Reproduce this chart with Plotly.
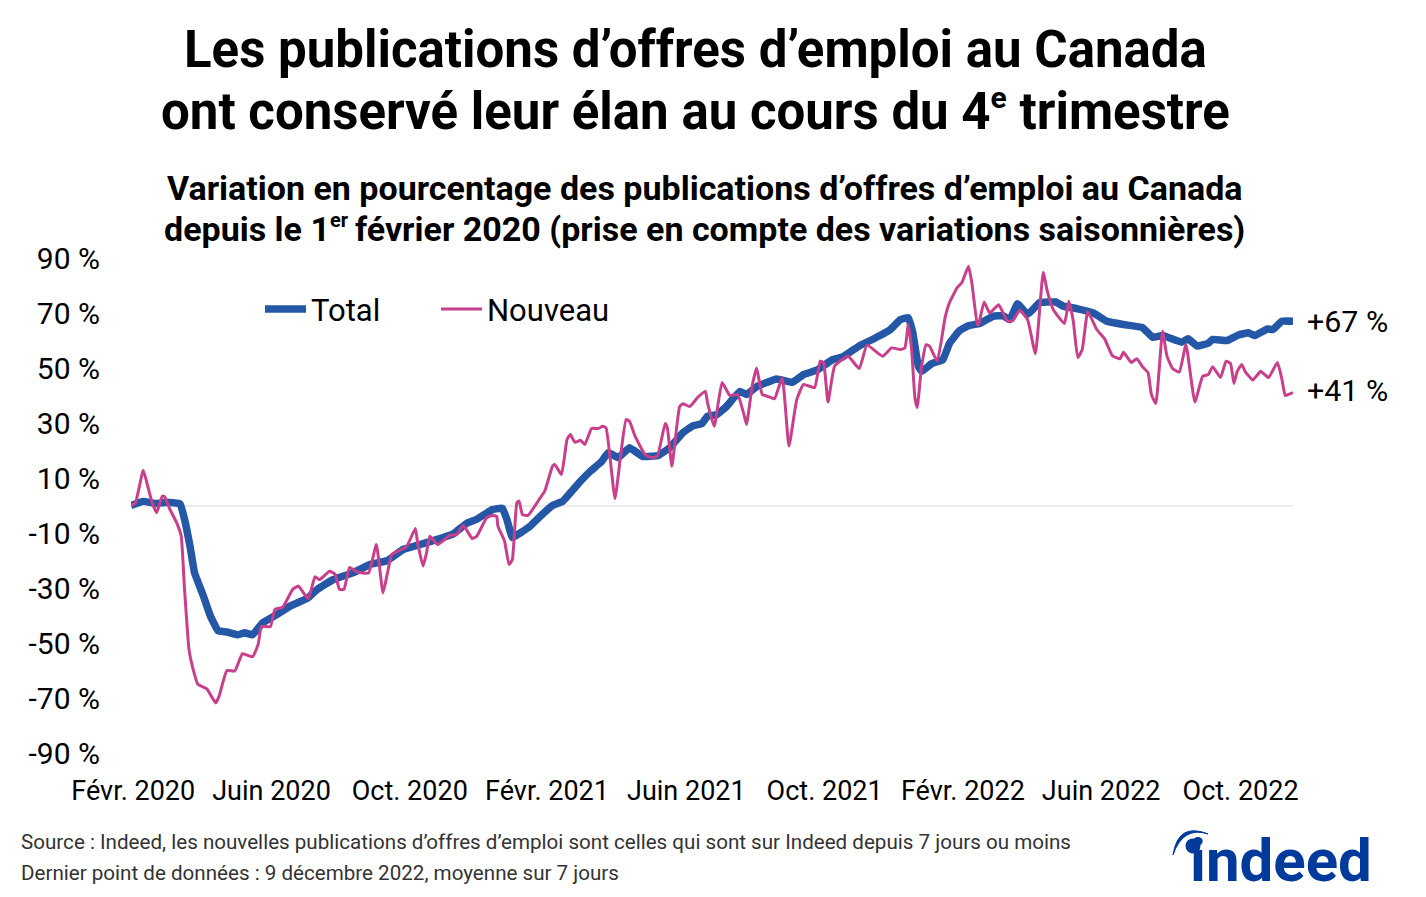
import plotly.graph_objects as go

# days since 1 Feb 2020 / % change
TOTAL_DAYS = [0, 11, 23, 32, 44, 48, 53, 57, 65, 71, 78, 86, 96, 102, 109, 118, 131, 143, 158, 167, 181, 199, 214,
              230, 244, 259, 274, 289, 301, 310, 324, 333, 337, 342, 349, 358, 367, 378, 387, 403, 412, 422, 428,
              437, 447, 459, 473, 483, 495, 504, 512, 517, 525, 534, 546, 552, 561, 579, 593, 603, 615, 629, 638,
              654, 663, 681, 690, 697, 701, 706, 709, 718, 728, 734, 743, 751, 761, 773, 782, 788, 795, 804, 815,
              829, 836, 848, 863, 875, 890, 907, 916, 925, 942, 948, 956, 966, 970, 983, 993, 1002, 1008, 1019,
              1024, 1032, 1042]
TOTAL = [0, 1.5, 0.7, 1.2, 0.6, -5, -15, -24.5, -33, -40, -45.5, -46, -47, -46.3, -47, -42.7, -39.6, -36.5, -33.8,
         -30.5, -27, -24.5, -21.5, -20, -16, -14.2, -12.4, -10.3, -6.5, -5, -1.5, -1, -5, -11.7, -10, -7.5, -3.9, 0,
         1.5, 8.8, 12.5, 16, 19.2, 17.4, 21, 17.8, 18.2, 21, 26.5, 29, 29.8, 32.5, 33, 36, 41.5, 40.4, 43.2, 46,
         44.8, 47.6, 49.2, 53, 54, 58.3, 60, 64, 67.6, 68.3, 63, 50.7, 48.8, 51.6, 53, 59, 63.6, 65.4, 66.2, 68.8,
         69, 67.6, 73.4, 69.5, 73.8, 74, 72.5, 71.6, 70, 67, 65.8, 64.7, 61.2, 61.8, 59.4, 60.6, 58, 59, 60.4, 60,
         62, 62.8, 61.8, 64.2, 64, 67, 67]

NEW_DAYS = [0, 4, 11, 15, 19, 23, 28, 30, 35, 41, 45, 48, 52, 55, 60, 68, 73, 76, 79, 86, 93, 100, 109, 114, 117,
            125, 129, 136, 145, 150, 159, 165, 169, 178, 183, 187, 191, 196, 203, 213, 220, 226, 230, 234, 247,
            255, 257, 262, 265, 268, 275, 286, 292, 298, 306, 310, 319, 324, 328, 329, 335, 339, 342, 346, 348,
            351, 356, 367, 371, 378, 380, 386, 391, 394, 398, 403, 407, 413, 419, 423, 426, 434, 439, 444, 447,
            452, 461, 467, 472, 479, 481, 485, 492, 495, 501, 508, 515, 517, 523, 530, 537, 544, 550, 552, 557,
            561, 566, 571, 577, 584, 590, 597, 603, 613, 618, 621, 625, 631, 643, 653, 660, 674, 682, 690, 694,
            697, 700, 703, 705, 709, 713, 716, 723, 730, 734, 741, 745, 751, 754, 759, 760, 765, 770, 778, 786,
            791, 797, 804, 811, 818, 822, 827, 837, 841, 845, 849, 853, 858, 866, 873, 880, 887, 890, 897, 902,
            907, 912, 915, 919, 925, 929, 934, 940, 946, 954, 961, 966, 970, 977, 982, 986, 989, 992, 996, 999,
            1006, 1013, 1020, 1028, 1032, 1035, 1038, 1042]
NEW = [0, 1, 12.8, 7, 1, -2.6, 3.4, 3.3, -1.5, -6.3, -11, -30.5, -52.4, -58.4, -65, -66.7, -70, -71.8, -69.3, -60,
       -60.2, -53.9, -55, -50.5, -44, -44, -37.8, -37, -30.5, -29.3, -33.9, -25.9, -27, -23.9, -25, -30.5, -30.5,
       -22.5, -24.2, -24.5, -14.2, -31.8, -24.5, -17.8, -15, -8.4, -13.6, -22, -17.2, -11.2, -14.2, -10.9, -10.6,
       -7.3, -12, -11.2, -4.4, -3.6, -4, -7.5, -13, -21.5, -19.6, 1, 1.6, -3.3, -3.6, 2.8, 5.2, 14.3, 14.9, 11.3,
       24, 25.8, 23, 23.7, 22.2, 28, 28, 28.8, 28.2, 2.5, 18, 31.3, 30.6, 25.2, 18.5, 17.4, 18, 29.8, 28.2, 14.3,
       36, 37, 36, 39.2, 41.6, 37.3, 28.8, 44.7, 40, 40.4, 32.5, 29.5, 43.4, 50, 40.4, 39.7, 38.8, 46.5, 21.6, 38.5,
       44, 42.9, 52.5, 52, 37.6, 50.7, 54.3, 49.8, 58.3, 54.3, 57.3, 56.7, 57.3, 65.8, 56.7, 39, 35.6, 50.7, 58.5,
       58, 52.5, 68.3, 73.8, 79.3, 81, 87, 81, 65.8, 65.8, 74, 70, 73, 67, 67.3, 71, 67.6, 55.2, 84.7, 77.4, 71.3,
       66.2, 74.3, 67, 53.8, 56.7, 70.5, 64, 60.7, 54.5, 53.4, 55.7, 52, 53.4, 50.5, 48.3, 40.4, 37.1, 63.4, 54.3,
       49.8, 48.5, 58.5, 37.6, 47, 47.6, 50.5, 46.5, 52.5, 51.6, 44.4, 48.8, 51.3, 48.8, 45.6, 48.8, 46.5, 52, 46,
       40, 40.4, 41]

X_TICKS = [2, 126, 250, 373, 498, 622, 746, 870, 995]
X_LABELS = ["Févr. 2020", "Juin 2020", "Oct. 2020", "Févr. 2021", "Juin 2021", "Oct. 2021", "Févr. 2022",
            "Juin 2022", "Oct. 2022"]
Y_TICKS = [90, 70, 50, 30, 10, -10, -30, -50, -70, -90]
Y_LABELS = [f"{v}\u00a0%" for v in Y_TICKS]

W, H = 1426, 897
LEFT, RIGHT, TOP, BOTTOM = 131, 1293, 257.5, 753
FONT = "Roboto"
BLUE = "#2557A7"
PINK = "#C83F8B"
LOGO = "#003A9B"


def px(x):
    return (x - LEFT) / (RIGHT - LEFT)


def py(y):
    return (BOTTOM - y) / (BOTTOM - TOP)


def text_at(x, y, text, size, bold=False, color="black", anchor="center"):
    fig.add_annotation(xref="paper", yref="paper", x=px(x), y=py(y), text=text, showarrow=False,
                       xanchor=anchor, yanchor="middle",
                       font=dict(family=FONT, size=size, color=color, weight="bold" if bold else "normal"))


def small_sup(text, size):
    return f"<sup><span style='font-size:{size}px'>{text}</span></sup>"


fig = go.Figure()
fig.add_trace(go.Scatter(x=TOTAL_DAYS, y=TOTAL, mode="lines", name="Total",
                         line=dict(color=BLUE, width=7.5, shape="spline", smoothing=0.3)))
fig.add_trace(go.Scatter(x=NEW_DAYS, y=NEW, mode="lines", name="Nouveau",
                         line=dict(color=PINK, width=3, shape="spline", smoothing=0.4)))

fig.update_layout(
    width=W, height=H,
    margin=dict(l=LEFT, r=W - RIGHT, t=TOP, b=H - BOTTOM),
    plot_bgcolor="white", paper_bgcolor="white",
    font=dict(family=FONT, color="black"),
    legend=dict(orientation="h", x=px(260), y=py(309), xanchor="left", yanchor="middle",
                font=dict(size=31), itemwidth=41, entrywidth=120, bgcolor="rgba(0,0,0,0)"),
)
fig.update_xaxes(range=[0, 1042], tickvals=X_TICKS, ticktext=X_LABELS, showgrid=False, zeroline=False,
                 showline=False, tickfont=dict(size=27), ticklabelstandoff=19)
fig.update_yaxes(range=[-90, 90], tickvals=Y_TICKS, ticktext=Y_LABELS, showgrid=False, showline=False,
                 zeroline=True, zerolinecolor="#EBEBEB", zerolinewidth=2,
                 tickfont=dict(size=30), ticklabelstandoff=30)

text_at(695, 49, "Les publications d’offres d’emploi au Canada", 51, bold=True)
text_at(695, 110, "ont conservé leur élan au cours du 4" + small_sup("e", 30) + " trimestre", 51, bold=True)
text_at(705, 187, "Variation en pourcentage des publications d’offres d’emploi au Canada", 34, bold=True)
text_at(704, 228, "depuis le 1" + small_sup("er", 20) + "\u2009février 2020 (prise en compte des variations saisonnières)",
        34, bold=True)

fig.add_annotation(x=1042, y=67, text="+67\u00a0%", showarrow=False, xanchor="left", xshift=12,
                   font=dict(family=FONT, size=30.4))
fig.add_annotation(x=1042, y=41, text="+41\u00a0%", showarrow=False, xanchor="left", xshift=12, yshift=2,
                   font=dict(family=FONT, size=30.4))

text_at(19, 842, "Source : Indeed, les nouvelles publications d’offres d’emploi sont celles qui sont sur Indeed "
                 "depuis 7 jours ou moins", 20.6, color="#333333", anchor="left")
text_at(19, 873, "Dernier point de données : 9 décembre 2022, moyenne sur 7 jours", 20.6, color="#333333",
        anchor="left")

# logo
text_at(1281, 861, "indeed", 60, bold=True, color=LOGO)
arc = (f"M {px(1173)},{py(855)} Q {px(1178)},{py(822)} {px(1208)},{py(834)} "
       f"Q {px(1183)},{py(826)} {px(1173)},{py(855)} Z")
fig.add_shape(type="path", xref="paper", yref="paper", path=arc, fillcolor=LOGO, line=dict(color=LOGO, width=1))
fig.add_shape(type="circle", xref="paper", yref="paper", x0=px(1185.5), x1=px(1200.5), y0=py(853.5), y1=py(838.5),
              fillcolor=LOGO, line_width=0)

fig.write_html("out.html", config={"displayModeBar": False}, post_script="document.body.style.margin='0';")
